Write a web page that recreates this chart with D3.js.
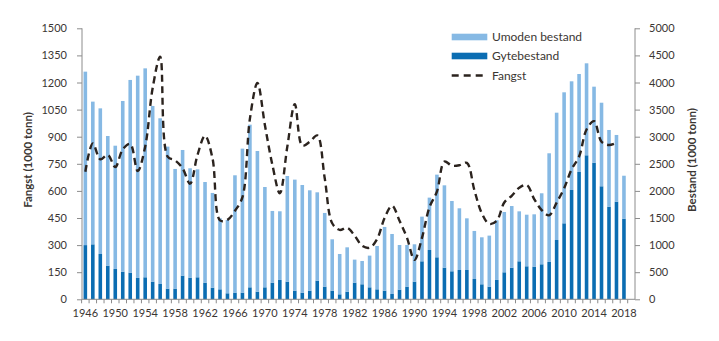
<!DOCTYPE html>
<html><head><meta charset="utf-8">
<script src="https://cdn.jsdelivr.net/npm/d3@7"></script>
<style>
html,body{margin:0;padding:0;background:#fff;}
text{font-family:Lato,"Noto Sans",sans-serif;fill:#3b3633;}
</style></head>
<body><svg id="c" width="719" height="341"></svg>
<script>
const years = d3.range(1946, 2019);
const tickYears = d3.range(1946, 2019, 4);
const totalBestand = [4200,3647,3523,3013,2834,3659,4047,4126,4261,3567,3340,2817,2405,2755,2417,2398,2164,1962,1494,1464,2288,2780,3222,2736,2072,1630,1624,2275,2208,2109,2011,1974,1593,1107,836,959,732,707,806,984,1335,1205,1002,1002,1015,1525,1876,2300,2103,1814,1679,1494,1261,1144,1175,1458,1611,1721,1623,1561,1568,1956,2694,3443,3819,4022,4157,4354,3923,3627,3124,3032,2280];
const gytebestand = [1000,1014,836,621,560,510,492,394,406,326,283,197,197,437,400,406,307,215,184,111,123,123,221,141,221,307,357,326,160,123,160,344,234,160,92,141,307,277,221,184,160,98,178,234,326,701,910,775,584,517,541,541,375,277,234,357,498,584,701,609,603,646,689,1094,1402,2017,2349,2657,2521,2085,1709,1801,1487];
const umodenBestand = totalBestand.map((t,i)=>t-gytebestand[i]);
const fangstYears = d3.range(1946, 2018);
const fangst = [706,863,775,800,732,830,860,710,845,1170,1343,790,769,725,640,800,905,780,437,440,490,565,1000,1197,965,745,587,845,1080,850,872,907,670,421,384,396,352,296,285,333,450,518,435,340,218,340,510,596,762,740,742,755,605,476,417,435,536,573,617,633,555,494,465,535,614,720,790,940,986,872,854,867];
const leftTicks = d3.range(0, 1501, 150);
const rightTicks = d3.range(0, 5001, 500);
const seriesNames = ["Umoden bestand","Gytebestand","Fangst"];
const colors = {umoden:"#86b9e4", gyte:"#0b6db2", line:"#2b231e", axis:"#8c8c8c"};

const svg = d3.select("#c");
const L = 82, R = 635, T = 28.3, B = 299.3;
const x = d3.scaleBand().domain(years).range([81.6, 627.7]).paddingInner(0.52).paddingOuter(0.26);
const yL = d3.scaleLinear().domain([0,1500]).range([B,T]);
const yR = d3.scaleLinear().domain([0,5000]).range([B,T]);

const stackData = years.map((yr,i)=>({year:yr, gyte:gytebestand[i], umoden:umodenBestand[i]}));
const stack = d3.stack().keys(["gyte","umoden"])(stackData);
svg.append("g").selectAll("g").data(stack).join("g")
  .attr("fill", d=> d.key==="gyte"?colors.gyte:colors.umoden)
  .selectAll("rect").data(d=>d).join("rect")
  .attr("x", d=>x(d.data.year)).attr("width", x.bandwidth())
  .attr("y", d=>yR(d[1])).attr("height", d=>yR(d[0])-yR(d[1]));

// line
const line = d3.line().x((d,i)=>x(fangstYears[i])+x.bandwidth()/2).y(d=>yL(d)).curve(d3.curveCatmullRom.alpha(0.5));
svg.append("path").datum(fangst).attr("d", line).attr("fill","none")
  .attr("stroke", colors.line).attr("stroke-width",2.4).attr("stroke-dasharray","7,4.5");

// axes
const fs = "10.5px";
const gl = svg.append("g").attr("transform",`translate(${L},0)`)
  .call(d3.axisLeft(yL).tickValues(leftTicks).tickSize(5).tickPadding(10).tickFormat(d3.format("d")));
const gr = svg.append("g").attr("transform",`translate(${R},0)`)
  .call(d3.axisRight(yR).tickValues(rightTicks).tickSize(5).tickPadding(9).tickFormat(d3.format("d")));
[gl,gr].forEach(g=>{
  g.select(".domain").attr("stroke",colors.axis).attr("d", `M0,${B}V${T}`);
  g.selectAll(".tick line").attr("stroke",colors.axis);
  g.selectAll("text").style("font-size","11px").attr("fill","#3b3633");
});
// x axis
const gx = svg.append("g").attr("transform",`translate(0,${B})`);
gx.append("line").attr("x1",L).attr("x2",R).attr("stroke",colors.axis);
const boundaries = years.map(yr=>x(yr) - x.step()*x.paddingInner()/2).concat([x(2018)+x.bandwidth()+x.step()*x.paddingInner()/2]);
gx.selectAll("line.t").data(boundaries).join("line").attr("class","t")
  .attr("x1",d=>d).attr("x2",d=>d).attr("y1",0).attr("y2",4).attr("stroke",colors.axis);
gx.selectAll("text").data(tickYears).join("text")
  .attr("x", d=>x(d)+x.bandwidth()/2).attr("y",18).attr("text-anchor","middle")
  .style("font-size","11px").text(d=>d);

// titles
svg.append("text").attr("transform","translate(32,160) rotate(-90)").attr("text-anchor","middle")
  .style("font-size","11.5px").style("font-weight","bold").text("Fangst (1000 tonn)");
svg.append("text").attr("transform","translate(696,160) rotate(-90)").attr("text-anchor","middle")
  .style("font-size","11.5px").style("font-weight","bold").text("Bestand (1000 tonn)");

// legend
const lg = svg.append("g");
const ly = [37, 56, 75.5];
lg.append("rect").attr("x",451.7).attr("y",ly[0]-3.3).attr("width",35.6).attr("height",6.6).attr("fill",colors.umoden);
lg.append("rect").attr("x",451.7).attr("y",ly[1]-3.3).attr("width",35.6).attr("height",6.6).attr("fill",colors.gyte);
lg.append("line").attr("x1",451.7).attr("x2",487.3).attr("y1",ly[2]).attr("y2",ly[2])
  .attr("stroke",colors.line).attr("stroke-width",2.4).attr("stroke-dasharray","7,5");
lg.selectAll("text").data(seriesNames).join("text")
  .attr("x",492).attr("y",(d,i)=>ly[i]+4).style("font-size","12px").text(d=>d);
</script></body></html>
